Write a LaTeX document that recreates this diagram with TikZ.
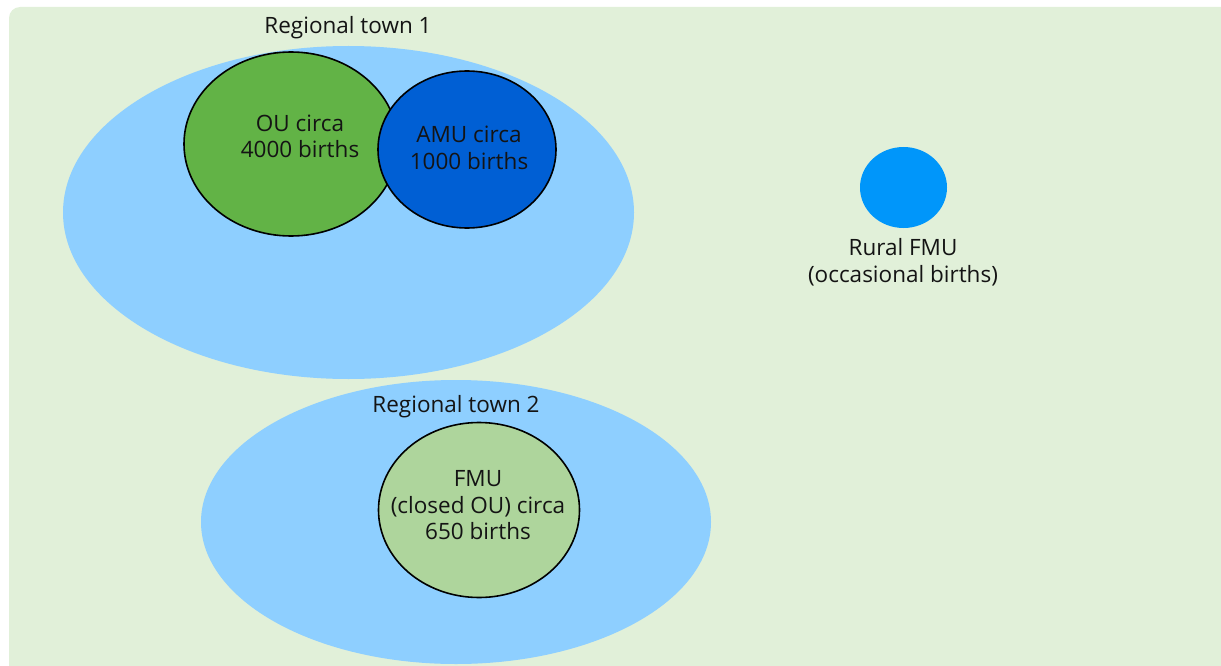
\documentclass[tikz,border=0pt]{standalone}
\usepackage{fontspec}
\setmainfont{Open Sans}
\usetikzlibrary{shapes.geometric}
\definecolor{bgc}{RGB}{225,240,217}
\definecolor{townc}{RGB}{142,207,255}
\definecolor{ouc}{RGB}{98,179,70}
\definecolor{amuc}{RGB}{0,95,212}
\definecolor{ruralc}{RGB}{0,150,250}
\definecolor{fmuc}{RGB}{174,213,156}
\definecolor{txtc}{RGB}{20,20,20}
\tikzset{
  blob/.style={ellipse, inner sep=0pt, outer sep=0pt},
  unit/.style={blob, draw=black, line width=1.6pt},
  lbl/.style={text=txtc, align=center, font=\fontsize{22.5}{26.5}\selectfont, inner sep=0pt}
}
\begin{document}
\begin{tikzpicture}[x=1pt,y=-1pt]
\useasboundingbox (0,0) rectangle (1221,666);
\fill[bgc, rounded corners=11pt] (9,7) rectangle (1240,690);
% Regional town 1
\node[blob, fill=townc, minimum width=571pt, minimum height=333pt] (town1) at (348.5,212.5) {};
\node[unit, fill=ouc, minimum width=214pt, minimum height=184pt] (ou) at (291,144) {};
\node[unit, fill=amuc, minimum width=178pt, minimum height=157pt] (amu) at (467,149.5) {};
\node[lbl] (t1lbl) at (348,28) {Regional town 1};
\node[lbl] (oulbl) at (300,136.5) {OU circa\\4000 births};
\node[lbl] (amulbl) at (469,148) {AMU circa\\1000 births};
% Rural FMU
\node[blob, fill=ruralc, minimum width=87pt, minimum height=81pt] (rural) at (903.5,187.5) {};
\node[lbl] (rurallbl) at (903,262) {Rural FMU\\(occasional births)};
% Regional town 2
\node[blob, fill=townc, minimum width=510pt, minimum height=284pt] (town2) at (456,522) {};
\node[unit, fill=fmuc, minimum width=201pt, minimum height=175pt] (fmu) at (479,510) {};
\node[lbl] (t2lbl) at (456,407) {Regional town 2};
\node[lbl] (fmulbl) at (478,505.5) {FMU\\(closed OU) circa\\650 births};
\end{tikzpicture}
\end{document}
